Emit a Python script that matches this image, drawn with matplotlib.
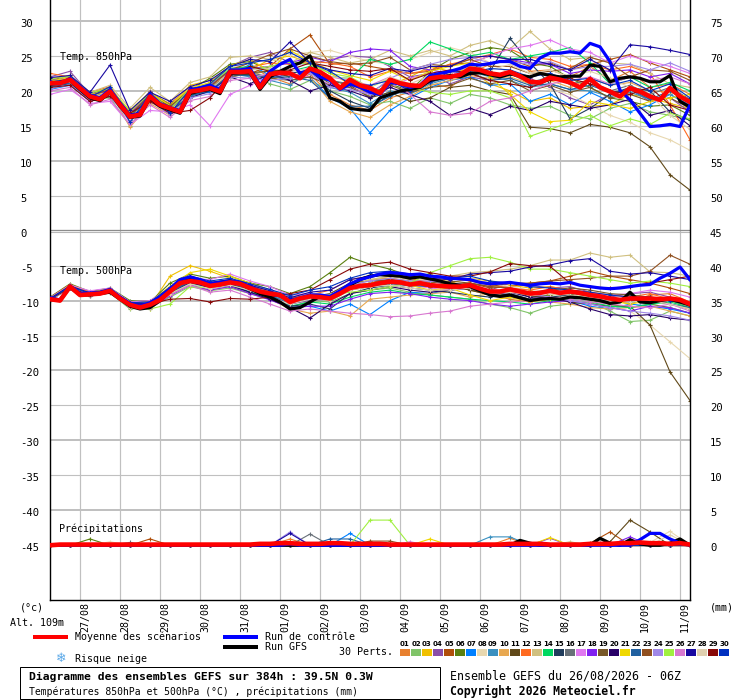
import numpy as np
import matplotlib
matplotlib.use("Agg")
import matplotlib.pyplot as plt
import matplotlib.transforms as mtransforms
from matplotlib.patches import Rectangle
from matplotlib.lines import Line2D

# ---------------- DATA ----------------
HOURS_6 = np.arange(0, 385, 6)      # 65 steps, 26/08 06Z .. 11/09 06Z
HOURS_12 = np.arange(0, 385, 12)    # 33 steps for the perturbations

DATE_LABELS = ["27/08", "28/08", "29/08", "30/08", "31/08", "01/09", "02/09", "03/09",
               "04/09", "05/09", "06/09", "07/09", "08/09", "09/09", "10/09", "11/09"]
DATE_HOURS = [18, 42, 66, 90, 114, 138, 162, 186, 210, 234, 258, 282, 306, 330, 354, 378]

MEMBER_COLORS = ["#e8802f", "#80c468", "#f0c000", "#8a4ea8", "#b04e0a", "#5a8010", "#0080ff",
                 "#e8d8b0", "#3a90c0", "#e8a850", "#604818", "#ff6a20", "#d0c080", "#00d860",
                 "#203c5c", "#687078", "#e078f0", "#8020f0", "#785828", "#280068", "#f0d800",
                 "#2060a0", "#905020", "#a088e8", "#a0f040", "#d878d0", "#1808a0", "#e0d0b0",
                 "#880808", "#0030c0"]

MEAN_850 = [21.1, 21.1, 21.6, 20.4, 19.2, 18.8, 19.9, 18.0, 16.3, 16.6, 19.2, 18.0, 17.5,
            17.0, 19.9, 20.1, 20.4, 19.9, 22.7, 22.7, 22.8, 20.5, 22.4, 22.6, 22.5, 21.8,
            23.2, 22.7, 21.8, 20.4, 21.6, 20.8, 20.4, 19.7, 21.6, 21.1, 20.8, 20.7, 21.8,
            22.0, 22.0, 22.3, 23.2, 23.0, 22.5, 22.3, 22.7, 22.1, 21.3, 21.2, 21.9, 21.6,
            21.2, 20.5, 21.7, 20.5, 19.9, 19.2, 20.4, 19.9, 19.2, 18.7, 20.4, 19.2, 18.4]
CTRL_850 = [21.3, 21.0, 21.8, 20.6, 19.4, 19.0, 20.2, 18.3, 16.5, 16.8, 19.5, 18.2, 17.6,
            17.2, 20.2, 20.4, 20.8, 20.2, 23.0, 23.0, 23.2, 20.8, 22.8, 23.8, 24.5, 22.5,
            23.0, 22.0, 21.5, 20.2, 21.0, 20.5, 19.8, 19.5, 21.2, 21.0, 20.5, 20.8, 22.2,
            22.5, 22.8, 23.2, 23.8, 23.7, 23.9, 24.2, 24.2, 23.5, 23.2, 24.7, 25.4, 25.4,
            25.6, 25.4, 26.8, 26.3, 24.2, 20.1, 18.7, 16.8, 14.9, 15.0, 15.2, 14.9, 18.0]
GFS_850 = [21.0, 21.2, 21.5, 20.2, 19.0, 18.6, 19.8, 17.8, 16.2, 16.4, 19.0, 17.8, 17.3,
           16.8, 19.6, 20.0, 20.2, 19.6, 22.5, 22.6, 22.6, 20.2, 22.0, 22.8, 23.5, 24.0,
           25.0, 22.0, 19.0, 18.5, 17.5, 17.3, 17.2, 19.0, 19.5, 20.0, 20.2, 20.5, 21.5,
           21.8, 22.2, 22.0, 22.5, 22.6, 22.3, 22.0, 22.4, 22.2, 22.0, 22.5, 22.2, 22.0,
           22.1, 22.1, 23.7, 23.5, 21.3, 21.8, 22.0, 21.8, 21.3, 21.3, 22.2, 18.5, 17.7]

MEAN_500 = [-9.8, -10.0, -8.0, -9.2, -9.1, -9.0, -8.6, -9.7, -10.6, -11.0, -10.6, -9.9, -8.7,
            -7.5, -7.2, -7.4, -7.9, -7.7, -7.4, -7.6, -8.2, -8.7, -9.0, -9.2, -10.2, -9.7,
            -9.4, -9.5, -9.7, -9.0, -8.2, -7.9, -7.8, -7.5, -7.3, -7.4, -7.7, -7.5, -7.8,
            -7.9, -8.0, -8.0, -7.8, -8.3, -8.7, -8.7, -8.4, -8.7, -9.0, -8.9, -8.6, -8.9,
            -8.7, -8.9, -9.2, -9.4, -9.7, -9.9, -9.7, -9.7, -9.7, -9.8, -9.7, -9.9, -10.5]
CTRL_500 = [-9.6, -9.9, -7.9, -9.0, -8.9, -8.8, -8.4, -9.5, -10.4, -10.8, -10.3, -9.5, -8.3,
            -7.0, -6.6, -7.0, -7.6, -7.4, -7.2, -7.4, -8.0, -8.6, -9.0, -9.3, -10.0, -9.6,
            -9.2, -9.2, -9.4, -8.6, -7.6, -7.0, -6.6, -6.2, -6.0, -6.1, -6.3, -6.2, -6.5,
            -6.6, -6.8, -6.9, -7.0, -7.4, -7.6, -7.5, -7.4, -7.6, -7.8, -7.6, -7.5, -7.6,
            -7.4, -7.8, -8.0, -8.2, -8.3, -8.2, -8.0, -7.8, -7.7, -6.8, -6.1, -5.2, -7.0]
GFS_500 = [-9.8, -10.0, -8.1, -9.2, -9.2, -9.0, -8.8, -9.8, -10.8, -11.2, -11.0, -10.0, -8.6,
           -7.2, -6.8, -7.2, -7.8, -7.5, -7.2, -7.6, -8.3, -9.0, -9.5, -10.2, -11.2, -11.0,
           -10.2, -9.4, -9.6, -8.8, -7.8, -7.0, -6.5, -6.3, -6.4, -6.5, -6.8, -6.6, -6.9,
           -7.2, -7.6, -7.8, -8.0, -8.6, -9.2, -9.4, -9.2, -9.6, -10.0, -9.8, -9.7, -9.8,
           -9.5, -9.6, -9.8, -10.0, -10.4, -10.2, -8.8, -10.2, -10.3, -10.0, -9.8, -10.2, -10.6]

PRECIP_MEAN = [0.0, 0.1, 0.1, 0.1, 0.1, 0.1, 0.1, 0.1, 0.1, 0.1, 0.1, 0.1, 0.1,
               0.1, 0.1, 0.1, 0.1, 0.1, 0.1, 0.1, 0.1, 0.2, 0.2, 0.3, 0.3, 0.2,
               0.2, 0.2, 0.3, 0.3, 0.2, 0.2, 0.2, 0.2, 0.1, 0.1, 0.1, 0.1, 0.1,
               0.1, 0.1, 0.1, 0.1, 0.1, 0.1, 0.1, 0.2, 0.2, 0.2, 0.2, 0.1, 0.1,
               0.1, 0.1, 0.2, 0.2, 0.2, 0.3, 0.3, 0.4, 0.3, 0.3, 0.2, 0.3, 0.1]
PRECIP_CTRL = [0, 0, 0, 0, 0, 0, 0, 0, 0, 0, 0, 0, 0,
               0, 0, 0, 0, 0, 0, 0, 0, 0, 0, 0, 0.2, 0,
               0, 0, 0, 0, 0, 0, 0, 0, 0, 0, 0, 0, 0,
               0, 0, 0, 0, 0, 0, 0, 0, 0, 0, 0, 0, 0,
               0, 0, 0, 0, 0, 0, 0, 0.8, 1.7, 1.7, 0.9, 0.3, 0]
PRECIP_GFS = [0, 0, 0, 0, 0, 0, 0, 0, 0, 0, 0, 0, 0,
              0, 0, 0, 0, 0, 0, 0, 0, 0, 0, 0, 0, 0,
              0, 0, 0, 0, 0, 0, 0, 0, 0, 0, 0, 0, 0,
              0, 0, 0, 0, 0, 0, 0, 0, 0.7, 0.3, 0, 0, 0,
              0, 0, 0, 1.0, 0.3, 0, 0.8, 0.2, 0, 0, 0.3, 0.9, 0]

# 30 perturbations, 850 hPa (12 h steps)
T850_MEMBERS = [
    [21.8, 22.0, 19.5, 20.3, 17.0, 19.6, 18.2, 20.5, 21.0, 23.0, 23.5, 22.0, 21.0, 22.4, 19.5, 18.0, 17.2, 19.0, 19.8, 21.0, 20.5, 22.5, 23.8, 24.5, 22.8, 23.0, 22.0, 23.5, 21.5, 22.8, 20.5, 21.0, 19.5],
    [20.6, 21.0, 18.8, 19.0, 15.0, 18.5, 16.8, 19.0, 20.0, 22.0, 22.5, 21.0, 20.2, 21.5, 20.0, 19.2, 18.0, 18.5, 17.5, 19.0, 18.2, 19.5, 19.0, 18.0, 17.5, 17.8, 16.5, 16.0, 17.5, 18.2, 17.0, 16.5, 15.8],
    [21.0, 21.4, 19.0, 20.2, 16.8, 19.5, 17.8, 20.8, 21.5, 22.4, 23.0, 24.5, 25.0, 24.0, 22.5, 21.0, 19.5, 20.8, 22.0, 23.5, 22.8, 23.0, 21.0, 20.0, 18.5, 19.0, 17.5, 17.8, 18.0, 19.5, 19.0, 18.2, 17.5],
    [22.0, 22.8, 19.5, 20.0, 16.5, 20.0, 17.0, 19.8, 21.2, 23.5, 24.8, 25.5, 24.0, 23.8, 24.5, 25.0, 24.8, 23.5, 22.0, 22.5, 21.0, 22.0, 21.5, 22.5, 21.8, 20.5, 19.0, 18.0, 19.5, 20.2, 18.5, 19.0, 17.0],
    [21.5, 22.2, 19.0, 19.8, 16.0, 19.0, 17.2, 19.5, 20.8, 22.0, 22.5, 23.5, 26.0, 28.0, 23.8, 24.0, 23.5, 23.0, 22.5, 22.8, 23.8, 24.0, 25.0, 24.5, 23.5, 24.0, 23.0, 23.8, 24.5, 25.2, 24.0, 23.0, 22.0],
    [20.8, 21.2, 19.5, 20.5, 16.2, 19.8, 18.0, 20.2, 21.8, 23.8, 24.2, 23.0, 22.0, 23.0, 21.0, 20.5, 19.5, 21.0, 20.0, 22.8, 24.5, 25.5, 26.2, 25.8, 24.0, 23.5, 21.8, 20.5, 19.0, 18.5, 17.8, 18.0, 16.5],
    [20.2, 20.8, 18.5, 19.8, 15.8, 18.8, 17.0, 19.4, 19.8, 22.2, 23.8, 22.2, 21.5, 22.0, 19.0, 17.5, 14.0, 17.2, 19.0, 20.5, 21.5, 22.0, 20.8, 21.0, 18.5, 19.5, 18.0, 19.8, 18.5, 17.0, 18.0, 19.5, 18.0],
    [21.3, 21.8, 19.2, 20.0, 15.5, 18.8, 17.8, 20.5, 21.0, 23.2, 24.0, 24.5, 25.2, 25.5, 25.8, 25.0, 24.2, 23.8, 24.5, 25.5, 26.2, 25.5, 24.0, 22.5, 21.0, 20.2, 19.5, 18.0, 16.5, 15.5, 14.0, 13.0, 11.5],
    [20.5, 21.2, 18.8, 19.5, 16.0, 19.2, 17.2, 19.2, 20.2, 22.5, 22.0, 21.5, 20.8, 22.8, 20.5, 19.8, 18.2, 20.0, 19.5, 21.0, 21.8, 22.8, 22.0, 21.5, 20.5, 21.0, 20.2, 20.0, 19.2, 19.8, 18.8, 19.5, 17.8],
    [21.6, 21.5, 19.3, 20.0, 14.8, 18.2, 16.5, 19.6, 20.5, 22.8, 22.2, 23.0, 22.5, 22.0, 18.5, 17.0, 16.2, 18.0, 19.2, 20.8, 21.5, 22.2, 21.8, 22.0, 21.0, 21.5, 20.5, 21.8, 20.8, 21.2, 20.0, 19.8, 18.8],
    [21.0, 21.4, 19.0, 19.6, 16.6, 19.0, 17.8, 20.0, 20.2, 22.0, 22.6, 22.8, 22.0, 22.8, 21.5, 20.8, 19.0, 19.8, 18.5, 19.0, 20.5, 20.8, 20.0, 19.5, 14.8, 14.6, 14.0, 15.2, 14.8, 14.0, 12.0, 8.0, 5.8],
    [22.5, 22.0, 19.8, 20.6, 16.8, 19.8, 17.5, 20.0, 20.6, 23.0, 23.4, 24.0, 23.8, 24.2, 24.0, 23.5, 22.0, 22.8, 22.5, 23.0, 23.8, 24.5, 25.2, 26.0, 24.8, 24.5, 23.5, 23.8, 23.0, 23.5, 22.5, 18.0, 13.0],
    [21.2, 22.2, 19.8, 20.8, 17.5, 20.5, 18.5, 21.2, 22.0, 24.8, 25.0, 24.5, 24.0, 25.5, 24.8, 24.0, 24.5, 25.8, 25.0, 25.8, 25.0, 26.5, 27.2, 26.0, 28.5, 26.0, 24.5, 24.8, 24.0, 23.8, 22.5, 21.0, 20.5],
    [20.9, 21.3, 19.1, 19.7, 16.4, 19.5, 17.6, 19.8, 20.6, 23.2, 23.5, 23.0, 22.8, 23.5, 22.0, 21.8, 24.5, 23.8, 24.5, 27.0, 26.0, 25.0, 25.5, 24.5, 25.0, 25.5, 26.2, 24.0, 21.0, 22.0, 20.5, 21.2, 20.0],
    [20.7, 21.0, 18.9, 19.5, 16.0, 18.8, 17.0, 19.5, 20.3, 22.5, 22.2, 21.8, 22.5, 23.0, 20.0, 18.5, 17.5, 19.5, 20.0, 21.5, 22.5, 23.8, 22.8, 27.5, 24.0, 21.0, 16.0, 17.5, 19.5, 20.5, 20.0, 17.0, 15.8],
    [21.4, 21.9, 19.4, 20.1, 16.5, 19.4, 17.7, 20.3, 20.8, 22.9, 22.6, 22.0, 21.8, 22.6, 21.5, 21.0, 19.8, 21.4, 20.2, 21.5, 21.8, 22.8, 22.2, 22.4, 21.2, 22.0, 21.0, 21.5, 20.0, 20.8, 19.5, 20.5, 18.8],
    [19.5, 20.2, 18.2, 18.5, 15.2, 17.2, 17.0, 18.0, 15.0, 19.5, 20.8, 22.0, 22.5, 22.0, 21.0, 20.5, 19.5, 20.5, 21.8, 22.5, 22.0, 24.0, 25.0, 26.0, 26.5, 27.3, 26.0, 25.5, 24.0, 25.0, 24.2, 23.5, 22.5],
    [21.5, 21.8, 19.6, 20.0, 16.8, 19.3, 17.5, 20.0, 20.7, 23.0, 23.2, 23.5, 24.0, 24.8, 24.2, 25.5, 26.0, 25.8, 23.5, 23.0, 22.5, 23.5, 24.0, 24.5, 24.0, 23.8, 22.5, 23.0, 22.8, 23.0, 22.0, 22.5, 21.0],
    [21.0, 21.5, 19.2, 19.6, 16.2, 19.0, 17.3, 19.7, 20.1, 22.4, 22.3, 21.8, 21.5, 22.0, 20.8, 20.5, 19.2, 20.8, 19.8, 20.5, 20.8, 21.8, 21.0, 21.5, 20.0, 20.8, 19.8, 20.5, 19.0, 19.5, 18.5, 19.0, 17.5],
    [20.8, 21.2, 18.8, 19.2, 16.0, 18.6, 17.2, 19.0, 20.0, 22.0, 21.0, 22.5, 21.5, 20.0, 20.8, 20.0, 19.0, 20.5, 19.5, 18.5, 16.5, 17.5, 16.6, 17.8, 17.2, 18.5, 18.0, 17.5, 18.0, 18.8, 16.5, 17.2, 15.0],
    [21.4, 21.9, 19.4, 20.3, 17.2, 19.8, 17.9, 20.4, 21.2, 23.6, 24.5, 22.8, 25.8, 24.2, 23.0, 22.2, 21.5, 22.8, 21.5, 22.8, 23.5, 24.0, 22.0, 19.5, 17.0, 15.6, 15.8, 18.5, 18.0, 17.5, 18.5, 19.0, 19.5],
    [20.6, 21.1, 18.7, 19.4, 15.8, 18.8, 17.0, 19.3, 20.0, 22.3, 22.2, 22.0, 22.0, 21.5, 19.0, 17.8, 17.8, 19.2, 20.5, 21.2, 22.0, 22.6, 21.5, 21.8, 20.8, 21.0, 20.2, 20.8, 19.8, 20.2, 18.8, 20.0, 18.2],
    [21.2, 21.7, 19.3, 20.2, 16.6, 19.3, 17.8, 20.0, 20.6, 23.0, 24.0, 25.2, 26.0, 25.0, 24.2, 23.8, 24.0, 24.8, 23.0, 23.8, 23.5, 24.5, 23.5, 23.5, 22.5, 22.8, 23.2, 24.8, 24.0, 22.0, 23.0, 22.8, 21.5],
    [20.3, 20.9, 18.6, 19.3, 15.6, 18.5, 16.6, 19.0, 19.6, 22.0, 21.8, 21.5, 21.8, 22.5, 20.5, 20.2, 19.5, 21.8, 23.0, 23.8, 24.5, 24.8, 24.0, 24.2, 23.8, 24.2, 23.0, 23.5, 23.5, 23.8, 23.0, 24.0, 22.8],
    [21.7, 22.1, 19.7, 20.4, 17.0, 19.7, 17.4, 20.2, 21.0, 23.2, 23.0, 23.5, 24.2, 23.8, 22.5, 22.0, 20.5, 21.8, 20.5, 19.8, 19.5, 20.0, 20.0, 19.0, 13.5, 14.5, 15.5, 16.5, 15.0, 16.0, 15.2, 16.8, 16.0],
    [20.0, 20.5, 18.0, 18.8, 15.2, 18.0, 16.2, 18.6, 19.2, 21.5, 21.8, 22.5, 22.8, 23.2, 22.0, 21.5, 20.8, 22.0, 19.5, 17.0, 16.5, 16.8, 18.5, 19.0, 20.0, 21.0, 21.5, 22.0, 21.0, 22.0, 21.5, 22.0, 21.0],
    [21.9, 22.2, 19.8, 23.7, 17.2, 19.8, 18.5, 20.6, 21.5, 23.5, 24.5, 24.2, 27.0, 24.0, 23.0, 22.5, 22.2, 23.2, 22.8, 23.5, 23.5, 24.8, 25.0, 24.5, 24.5, 23.8, 23.0, 24.5, 23.0, 26.6, 26.3, 25.8, 25.2],
    [21.0, 21.3, 19.0, 19.8, 16.0, 19.0, 17.2, 19.6, 20.2, 22.6, 23.0, 23.2, 22.8, 23.2, 22.0, 21.8, 20.5, 22.0, 21.0, 22.2, 22.5, 23.5, 23.0, 23.8, 22.5, 23.0, 22.0, 22.8, 21.8, 20.5, 19.5, 16.5, 14.5],
    [20.5, 20.8, 18.5, 19.2, 16.8, 18.5, 16.8, 17.2, 19.0, 22.2, 23.5, 22.8, 23.0, 24.0, 23.5, 23.0, 22.8, 23.2, 21.5, 22.5, 23.0, 22.5, 21.5, 21.0, 20.5, 21.5, 21.8, 21.0, 20.0, 19.5, 20.5, 18.0, 17.2],
    [21.3, 21.6, 19.1, 20.6, 15.5, 19.6, 16.8, 20.2, 21.0, 23.5, 24.0, 24.5, 25.5, 24.0, 22.8, 21.0, 20.8, 21.5, 20.0, 21.2, 22.8, 22.5, 23.2, 23.0, 22.0, 22.5, 21.5, 21.8, 20.8, 21.5, 20.0, 21.0, 19.0],
]

# 30 perturbations, 500 hPa (12 h steps)
T500_MEMBERS = [
    [-9.6, -7.8, -8.8, -8.4, -10.4, -10.2, -8.0, -6.5, -7.4, -7.0, -8.0, -8.8, -10.0, -9.0, -9.5, -7.8, -7.0, -6.8, -7.2, -7.5, -7.2, -8.5, -9.2, -9.8, -10.2, -9.0, -8.8, -9.5, -10.0, -10.2, -9.2, -9.0, -10.2],
    [-10.0, -8.2, -9.3, -8.9, -11.2, -11.0, -9.5, -8.0, -8.6, -8.2, -9.0, -9.8, -11.0, -10.0, -10.2, -9.0, -8.5, -8.2, -8.8, -9.2, -9.5, -9.8, -10.5, -11.0, -11.8, -10.8, -10.5, -10.2, -11.5, -13.0, -12.8, -11.5, -12.2],
    [-9.7, -7.9, -8.9, -8.3, -10.5, -10.8, -6.5, -5.0, -5.8, -6.8, -7.8, -8.5, -9.5, -9.2, -9.5, -7.5, -7.2, -6.5, -6.8, -6.2, -7.5, -6.8, -7.2, -7.8, -8.2, -8.0, -8.5, -9.0, -9.8, -10.5, -9.5, -10.0, -11.0],
    [-9.9, -8.1, -9.2, -8.8, -10.8, -10.5, -8.5, -7.5, -8.0, -7.6, -8.5, -9.2, -10.5, -10.0, -9.8, -8.0, -7.5, -7.0, -7.5, -7.2, -7.8, -8.2, -8.5, -7.5, -7.8, -8.2, -8.0, -8.8, -9.5, -9.0, -8.8, -9.5, -10.5],
    [-9.8, -8.0, -9.0, -8.6, -10.4, -10.6, -8.8, -7.0, -7.8, -7.2, -8.2, -9.0, -10.0, -9.2, -9.8, -8.0, -7.5, -7.0, -7.2, -7.0, -7.8, -7.5, -8.2, -8.0, -7.5, -7.2, -6.5, -5.8, -6.5, -7.0, -7.5, -8.2, -9.0],
    [-9.5, -7.6, -8.7, -8.2, -10.0, -10.2, -7.5, -6.2, -6.8, -6.5, -7.5, -8.0, -9.0, -8.0, -6.0, -3.8, -4.8, -5.5, -6.5, -7.0, -7.8, -8.5, -9.0, -8.5, -9.5, -9.2, -9.0, -10.0, -10.5, -11.0, -10.5, -11.0, -11.8],
    [-9.9, -8.1, -9.2, -8.7, -10.7, -10.9, -9.0, -7.6, -8.3, -7.8, -8.8, -9.8, -11.0, -10.8, -11.5, -10.5, -12.0, -10.0, -8.8, -9.0, -8.5, -8.2, -9.0, -9.5, -9.8, -9.5, -10.0, -10.8, -11.2, -10.5, -10.8, -11.2, -11.8],
    [-9.7, -8.0, -9.1, -8.5, -10.5, -10.4, -8.5, -7.0, -7.6, -7.2, -8.0, -8.8, -9.8, -9.0, -9.2, -7.8, -7.0, -6.5, -6.8, -7.2, -7.0, -6.8, -7.5, -8.0, -8.5, -9.0, -9.5, -10.0, -10.8, -11.5, -13.5, -15.9, -18.3],
    [-9.8, -8.1, -9.1, -8.7, -10.6, -10.5, -8.8, -7.3, -8.0, -7.5, -8.3, -9.2, -10.3, -9.6, -9.9, -8.4, -8.0, -7.6, -7.9, -8.0, -8.2, -8.0, -8.9, -8.6, -9.2, -8.8, -8.9, -9.4, -9.9, -9.9, -9.9, -10.0, -10.8],
    [-9.9, -8.2, -9.3, -8.8, -11.0, -11.2, -9.2, -7.8, -8.5, -8.0, -9.0, -9.8, -11.2, -11.8, -11.5, -12.2, -9.8, -9.5, -9.2, -9.0, -8.8, -9.5, -9.0, -9.2, -9.8, -10.2, -10.5, -11.0, -11.2, -11.0, -10.8, -11.5, -12.2],
    [-9.8, -8.0, -9.0, -8.5, -10.2, -10.0, -8.5, -7.0, -7.5, -7.0, -7.5, -8.5, -9.5, -9.5, -9.0, -7.5, -7.2, -7.0, -7.5, -7.8, -8.0, -8.5, -9.2, -9.5, -10.0, -9.8, -10.2, -10.5, -10.8, -10.8, -13.5, -20.2, -24.3],
    [-9.6, -7.7, -8.8, -8.4, -10.3, -10.4, -8.2, -6.8, -7.6, -7.0, -7.8, -8.8, -9.8, -9.2, -8.5, -7.0, -6.5, -6.2, -6.8, -7.5, -6.8, -7.2, -7.8, -8.2, -8.5, -8.0, -8.5, -8.8, -9.2, -9.5, -9.0, -9.8, -10.5],
    [-9.7, -7.9, -9.0, -8.6, -10.5, -10.6, -8.6, -7.2, -7.8, -7.3, -8.0, -8.8, -10.0, -9.2, -9.5, -8.0, -7.0, -6.5, -7.0, -7.5, -6.5, -6.0, -5.8, -5.5, -5.0, -4.2, -4.2, -3.2, -3.8, -3.5, -5.9, -6.0, -6.5],
    [-9.8, -8.1, -9.2, -8.7, -10.8, -11.0, -9.0, -7.5, -8.2, -7.8, -8.8, -9.5, -10.8, -10.2, -10.5, -9.5, -8.8, -8.5, -9.0, -9.2, -9.5, -9.8, -10.0, -10.2, -10.5, -10.0, -9.8, -10.2, -10.8, -11.0, -10.5, -10.2, -11.0],
    [-9.9, -8.1, -9.2, -8.6, -10.7, -10.8, -8.9, -7.4, -8.1, -7.6, -8.5, -9.5, -10.8, -10.5, -11.2, -9.0, -8.2, -7.8, -8.2, -8.5, -8.8, -9.2, -9.5, -9.0, -9.8, -9.5, -9.2, -9.8, -10.2, -10.0, -9.8, -10.5, -11.2],
    [-9.8, -8.0, -9.1, -8.6, -10.6, -10.6, -8.7, -7.2, -7.9, -7.4, -8.2, -9.0, -10.2, -9.4, -9.7, -8.2, -7.8, -7.3, -7.7, -7.8, -8.0, -7.8, -8.7, -8.4, -9.0, -8.6, -8.7, -9.2, -9.7, -9.7, -9.7, -9.7, -10.5],
    [-9.6, -7.8, -8.6, -8.2, -10.2, -10.0, -8.2, -6.8, -7.0, -6.2, -7.2, -8.0, -9.2, -9.0, -9.5, -8.0, -7.5, -7.2, -7.8, -8.2, -8.5, -8.2, -9.0, -8.8, -9.0, -8.5, -8.8, -9.0, -9.2, -9.0, -8.5, -8.8, -9.5],
    [-9.9, -8.2, -9.3, -8.8, -10.9, -11.1, -9.3, -7.8, -8.5, -8.0, -9.0, -9.9, -11.0, -10.8, -10.8, -9.8, -9.0, -8.8, -9.0, -9.5, -9.8, -10.0, -10.5, -10.8, -10.5, -10.2, -10.0, -10.5, -11.0, -11.5, -10.8, -11.0, -11.8],
    [-9.8, -8.0, -9.0, -8.6, -10.5, -10.5, -8.6, -7.2, -7.8, -7.4, -8.2, -9.0, -10.0, -9.5, -9.5, -8.2, -7.5, -7.0, -7.5, -7.5, -7.2, -7.5, -8.0, -8.2, -8.8, -8.5, -8.2, -8.5, -9.0, -9.2, -9.5, -9.8, -10.8],
    [-9.8, -8.1, -9.2, -8.7, -10.8, -10.8, -8.9, -7.4, -8.2, -7.8, -8.8, -9.8, -11.0, -12.5, -10.5, -9.0, -8.5, -8.0, -8.5, -8.8, -8.5, -8.2, -9.2, -8.8, -9.5, -9.5, -10.2, -11.2, -12.0, -12.2, -12.0, -12.5, -12.8],
    [-9.7, -7.9, -8.9, -8.3, -10.4, -10.2, -8.0, -6.0, -5.5, -6.5, -7.5, -8.5, -9.5, -9.0, -9.2, -8.0, -7.5, -7.2, -7.8, -8.5, -8.2, -9.2, -10.0, -9.5, -10.2, -9.8, -9.5, -9.2, -10.0, -10.5, -10.0, -10.5, -11.2],
    [-9.9, -8.1, -9.2, -8.7, -10.7, -10.7, -8.8, -7.3, -8.0, -7.5, -8.3, -9.3, -10.5, -9.8, -10.0, -8.5, -7.8, -7.5, -7.8, -8.0, -8.2, -8.0, -8.8, -8.5, -9.0, -8.5, -8.8, -9.5, -10.0, -10.2, -10.0, -10.5, -11.0],
    [-9.8, -8.0, -9.1, -8.6, -10.6, -10.5, -8.6, -7.0, -7.6, -7.2, -8.0, -9.0, -10.0, -9.2, -9.5, -8.5, -8.0, -7.5, -7.5, -8.0, -7.8, -7.5, -8.0, -7.5, -7.5, -7.2, -7.0, -6.8, -6.5, -6.5, -5.8, -3.5, -4.8],
    [-9.7, -7.9, -9.0, -8.5, -10.4, -10.3, -8.3, -6.8, -7.5, -7.0, -7.8, -8.5, -9.5, -9.0, -9.2, -7.8, -7.2, -6.8, -7.2, -7.2, -7.5, -7.8, -8.5, -8.8, -9.0, -9.5, -10.0, -10.5, -11.0, -11.5, -11.8, -12.2, -12.8],
    [-9.8, -8.0, -9.0, -8.6, -11.0, -11.2, -10.5, -8.0, -8.2, -7.5, -8.0, -8.8, -10.0, -9.5, -9.2, -8.8, -8.5, -8.0, -7.5, -6.0, -5.0, -4.0, -3.8, -4.5, -5.5, -5.5, -6.0, -6.5, -7.0, -7.5, -7.2, -7.5, -8.0],
    [-9.8, -8.1, -9.2, -8.8, -10.9, -11.0, -9.2, -7.8, -8.8, -8.5, -9.5, -10.5, -11.5, -11.2, -11.5, -11.8, -12.0, -12.3, -12.2, -11.8, -11.5, -10.8, -10.5, -10.2, -10.0, -9.5, -9.8, -10.2, -10.5, -10.8, -11.0, -10.5, -11.5],
    [-9.7, -7.9, -8.9, -8.5, -10.4, -10.4, -8.4, -6.8, -7.4, -7.0, -7.8, -8.6, -9.6, -8.8, -8.5, -7.0, -6.5, -6.0, -6.5, -6.8, -7.0, -6.2, -6.0, -5.8, -5.2, -4.9, -4.3, -4.0, -5.8, -6.2, -6.0, -6.5, -7.0],
    [-9.9, -8.2, -9.3, -8.9, -11.0, -10.9, -9.0, -7.6, -8.3, -7.8, -8.5, -9.5, -10.5, -9.8, -10.0, -8.5, -8.0, -7.8, -8.2, -8.5, -8.5, -8.2, -9.0, -8.8, -9.2, -9.0, -9.2, -9.5, -10.0, -10.2, -10.0, -10.5, -11.2],
    [-9.8, -8.2, -9.2, -8.8, -10.8, -10.5, -9.8, -9.7, -10.2, -9.7, -9.8, -9.5, -9.0, -8.5, -7.0, -5.5, -4.8, -4.5, -5.5, -6.0, -6.5, -6.5, -5.9, -4.7, -5.0, -5.1, -7.5, -8.0, -8.2, -8.0, -7.5, -7.0, -6.5],
    [-9.8, -8.0, -9.0, -8.4, -10.3, -10.2, -8.1, -6.5, -7.2, -6.8, -7.6, -8.4, -9.3, -8.5, -8.0, -6.8, -6.0, -5.8, -6.2, -6.5, -6.8, -6.5, -7.2, -7.5, -8.0, -8.2, -8.5, -8.8, -9.2, -9.5, -9.5, -10.0, -10.5],
]

# 30 perturbations, precipitation in mm (12 h steps)
PRECIP_MEMBERS = [
    [0, 0, 0, 0, 0, 0, 0, 0, 0, 0, 0, 0, 0.9, 0, 0, 0, 0, 0, 0, 0, 0, 0, 0, 1.0, 0, 0, 0, 0, 0, 0, 0, 0, 0],
    [0, 0, 0, 0, 0, 0, 0, 0, 0, 0, 0, 0, 0, 0, 0, 0, 0, 0, 0, 0, 0, 0, 0, 0, 0, 0, 0, 0, 0, 0, 0, 0, 0],
    [0, 0, 0, 0, 0, 0, 0, 0, 0, 0, 0, 0, 0, 0, 0, 0, 0, 0, 0, 0, 0, 0, 0, 0, 0, 0, 0, 0, 0, 0, 0, 0, 0],
    [0, 0, 0, 0, 0, 0, 0, 0, 0, 0, 0, 0, 0, 0, 0, 0, 0, 0, 0, 0, 0, 0, 0, 0, 0, 0, 0, 0, 0, 0, 0, 0, 0],
    [0, 0, 0, 0, 0, 0.9, 0, 0, 0, 0, 0, 0, 0, 0, 0, 0, 0, 0, 0, 0, 0, 0, 0, 0, 0, 0, 0, 0.3, 1.9, 0, 0, 0, 0],
    [0, 0, 0.9, 0, 0, 0, 0, 0, 0, 0, 0, 0, 0, 0, 0, 0, 0, 0, 0, 0, 0, 0, 0, 0, 0, 0, 0, 0, 0, 0, 0, 0, 0],
    [0, 0, 0, 0, 0, 0, 0, 0, 0, 0, 0, 0, 0, 0, 0, 1.7, 0, 0, 0, 0, 0, 0, 0, 0, 0, 0, 0, 0, 0, 0, 0, 0, 0],
    [0, 0, 0, 0.5, 0, 0, 0, 0, 0, 0, 0, 0, 0, 0, 0, 0, 0, 0, 0, 0, 0, 0, 0, 0, 0, 0, 0, 0, 0, 0, 0.4, 2.0, 0],
    [0, 0, 0, 0, 0, 0, 0, 0, 0, 0, 0, 0, 0, 0, 0, 0, 0, 0, 0, 0, 0, 0, 1.2, 1.2, 0, 0, 0, 0, 0, 0, 0, 0, 0],
    [0, 0, 0, 0, 0, 0, 0, 0, 0, 0, 0, 0, 0, 0, 0, 0, 0, 0, 0, 0, 0, 0, 0, 0, 0, 0, 0, 0, 0, 0, 0, 0, 0],
    [0, 0, 0, 0, 0, 0, 0, 0, 0, 0, 0, 0, 0, 0, 0, 0, 0, 0, 0, 0, 0, 0, 0, 0, 0, 0, 0, 0, 0.5, 3.6, 1.9, 0, 0],
    [0, 0, 0, 0, 0, 0, 0, 0, 0, 0, 0, 0, 0, 0, 0, 0, 0, 0, 0, 0, 0, 0, 0, 0, 0, 0, 0, 0, 0, 0, 0, 0, 0],
    [0, 0, 0, 0, 0, 0, 0, 0, 0, 0, 0, 0, 0, 0, 0, 0, 0, 0, 0, 0, 0, 0, 0, 0, 0, 0, 0.5, 0, 0, 0, 0, 0, 0],
    [0, 0, 0, 0, 0, 0, 0, 0, 0, 0, 0, 0, 0, 0, 0, 0, 0, 0, 0, 0, 0, 0, 0, 0, 0, 0, 0, 0, 0, 0, 0, 0, 0],
    [0, 0, 0, 0, 0, 0, 0, 0, 0, 0, 0, 0, 0, 0, 0, 0, 0, 0, 0, 0, 0, 0, 0, 0, 0, 0, 0, 0, 0, 0, 0, 0, 0],
    [0, 0, 0, 0, 0.4, 0, 0, 0, 0, 0, 0, 0, 0, 1.6, 0, 0, 0, 0, 0, 0, 0, 0, 0, 0, 0, 0, 0, 0, 0, 0, 0, 0, 0],
    [0, 0, 0, 0, 0, 0, 0, 0, 0, 0, 0, 0, 0, 0, 0, 0, 0, 0, 0, 0, 0, 0, 0, 0, 0, 0, 0, 0, 0, 0, 0, 0, 0],
    [0, 0, 0, 0, 0, 0, 0, 0, 0, 0, 0, 0, 0, 0, 0, 0, 0, 0, 0, 0, 0, 0, 0, 0, 0, 1.0, 0, 0, 0, 1.2, 0, 0, 0],
    [0, 0, 0, 0, 0, 0, 0, 0, 0, 0, 0, 0, 0, 0, 0, 0, 0, 0, 0, 0, 0, 0, 0, 0, 0, 0, 0, 0, 0, 0, 0, 0, 0],
    [0, 0, 0, 0, 0, 0, 0, 0, 0, 0, 0, 0, 0, 0, 0, 0, 0, 0, 0, 0, 0, 0, 0, 0, 0, 0, 0, 0, 0, 0, 0, 0, 0],
    [0, 0, 0, 0, 0, 0, 0, 0, 0, 0, 0, 0, 0, 0, 0, 0, 0, 0, 0, 0.9, 0, 0, 0, 0, 0, 1.1, 0, 0, 0, 0, 0, 0, 0],
    [0, 0, 0, 0, 0, 0, 0, 0, 0, 0, 0, 0, 0, 0, 0.9, 0.9, 0, 0, 0, 0, 0, 0, 0, 0, 0, 0, 0, 0, 0, 0, 0, 0, 0],
    [0, 0, 0, 0, 0, 0, 0, 0, 0, 0, 0, 0, 0, 0, 0, 0, 0.6, 0.6, 0, 0, 0, 0, 0, 0, 0, 0, 0, 0, 0, 0, 0, 0, 0],
    [0, 0, 0, 0, 0, 0, 0, 0, 0, 0, 0, 0, 1.9, 0, 0, 0, 0, 0, 0, 0, 0, 0, 0, 0, 0, 0, 0, 0, 0, 0, 0, 0, 0],
    [0, 0, 0, 0, 0, 0, 0, 0, 0, 0, 0, 0, 0, 0, 0, 0, 3.6, 3.6, 0, 0, 0, 0, 0, 0, 0, 0, 0, 0, 0, 0, 0, 0, 0],
    [0, 0, 0, 0, 0, 0, 0, 0, 0, 0, 0, 0, 0, 0, 0, 0, 0, 0, 0.5, 0, 0, 0, 0, 0, 0, 0, 0, 0, 0, 0, 0, 0, 0],
    [0, 0, 0, 0, 0, 0, 0, 0, 0, 0, 0, 0, 1.7, 0, 0, 0, 0, 0, 0, 0, 0, 0, 0, 0, 0, 0, 0, 0, 0, 0, 0, 0, 0],
    [0, 0, 0, 0, 0, 0, 0, 0, 0, 0, 0, 0, 0, 0, 0, 0, 0, 0, 0, 0, 0, 0, 0, 0, 0, 0, 0, 0, 0, 0, 0, 1.5, 0],
    [0, 0, 0, 0, 0, 0, 0, 0, 0, 0, 0, 0, 0, 0, 0, 0, 0, 0, 0, 0, 0, 0, 0, 0, 0, 0, 0, 0, 0, 0, 0, 0, 0],
    [0, 0, 0, 0, 0, 0, 0, 0, 0, 0, 0, 0, 0, 0, 0, 0, 0, 0, 0, 0, 0, 0, 0, 0, 0, 0, 0, 0, 0, 0, 0, 0, 0],
]

PRECIP_BASE = -45.0    # 0 mm sits on the -45 line of the temperature scale
LEFT_TICKS = list(range(30, -46, -5))
RIGHT_TICKS = list(range(75, -1, -5))

# ---------------- FIGURE ----------------
W, H = 740, 700
MONO = "DejaVu Sans Mono"
fig = plt.figure(figsize=(W / 100, H / 100), dpi=100)
fig.patch.set_facecolor("white")

ax = fig.add_axes([50 / W, 100 / H, 640 / W, 600 / H])
YMIN, YMAX = -52.83, 33.0
ax.set_xlim(0, 384)
ax.set_ylim(YMIN, YMAX)
ax.set_facecolor("white")

PX = 0.72  # points per pixel
for v in LEFT_TICKS:
    if v == 0:
        continue
    ax.axhline(v, color="#c0c0c0", lw=(2 if v % 10 == 0 else 1.1) * PX, zorder=0)
ax.axhline(0.12, color="#8c8c8c", lw=1.3 * PX, zorder=0.5)
ax.axhline(-0.25, color="#b8b8b8", lw=1.1 * PX, zorder=0.5)
for h in DATE_HOURS:
    ax.axvline(h, color="#c0c0c0", lw=1.2 * PX, zorder=0)

for s in ["left", "right", "bottom"]:
    ax.spines[s].set_color("black")
    ax.spines[s].set_linewidth(1.4 * PX)
ax.spines["top"].set_visible(False)

# y ticks (left: temperatures)
ax.set_yticks(LEFT_TICKS)
ax.set_yticklabels([str(v) for v in LEFT_TICKS], family=MONO, fontsize=7.6, ha="left")
ax.tick_params(axis="y", length=0, pad=30 * PX)
down = mtransforms.ScaledTranslation(0, -2 / 100, fig.dpi_scale_trans)
for lab in ax.get_yticklabels():
    lab.set_transform(lab.get_transform() + down)

# x ticks: dates
ax.set_xticks(DATE_HOURS)
ax.set_xticklabels(DATE_LABELS, rotation=90, family=MONO, fontsize=7.2, ha="center", va="top")
ax.tick_params(axis="x", length=0, pad=2 * PX)
right5 = mtransforms.ScaledTranslation(5 / 100, 0, fig.dpi_scale_trans)
for lab in ax.get_xticklabels():
    lab.set_transform(lab.get_transform() + right5)

# right axis (same scale shifted by 45)
ax2 = ax.twinx()
ax2.set_ylim(YMIN + 45, YMAX + 45)
ax2.set_yticks(RIGHT_TICKS)
ax2.set_yticklabels([str(v) for v in RIGHT_TICKS], family=MONO, fontsize=7.6)
ax2.tick_params(axis="y", length=0, pad=20 * PX)
for lab in ax2.get_yticklabels():
    lab.set_transform(lab.get_transform() + down)
for s in ax2.spines.values():
    s.set_visible(False)

# ---------------- SERIES ----------------
for c, vals in zip(MEMBER_COLORS, T850_MEMBERS):
    ax.plot(HOURS_12, vals, color=c, lw=0.8, marker="+", ms=3, mew=0.8, zorder=2)
for c, vals in zip(MEMBER_COLORS, T500_MEMBERS):
    ax.plot(HOURS_12, vals, color=c, lw=0.8, marker="+", ms=3, mew=0.8, zorder=2)
for c, vals in zip(MEMBER_COLORS, PRECIP_MEMBERS):
    ax.plot(HOURS_12, np.array(vals) + PRECIP_BASE, color=c, lw=0.8, marker="+", ms=3, mew=0.8, zorder=2)

ax.plot(HOURS_6, GFS_850, color="black", lw=3.2 * PX, zorder=3)
ax.plot(HOURS_6, CTRL_850, color="#0000ff", lw=3.2 * PX, zorder=4)
ax.plot(HOURS_6, MEAN_850, color="#ff0000", lw=4.6 * PX, zorder=5)
ax.plot(HOURS_6, GFS_500, color="black", lw=3.2 * PX, zorder=3)
ax.plot(HOURS_6, CTRL_500, color="#0000ff", lw=3.2 * PX, zorder=4)
ax.plot(HOURS_6, MEAN_500, color="#ff0000", lw=4.6 * PX, zorder=5)
ax.plot(HOURS_6, np.array(PRECIP_GFS) + PRECIP_BASE, color="black", lw=3.2 * PX, zorder=3)
ax.plot(HOURS_6, np.array(PRECIP_CTRL) + PRECIP_BASE, color="#0000ff", lw=3.2 * PX, zorder=4)
ax.plot(HOURS_6, np.array(PRECIP_MEAN) + PRECIP_BASE, color="#ff0000", lw=4.6 * PX, zorder=5)

# ---------------- TEXTS ----------------
def ptext(px, py, s, size=7.2, weight="normal", ha="left", va="center", family=MONO, **kw):
    fig.text(px / W, 1 - py / H, s, fontsize=size, fontweight=weight, ha=ha, va=va,
             family=family, **kw)

ptext(60, 57, "Temp. 850hPa")
ptext(60, 271, "Temp. 500hPa")
ptext(59, 529, "Précipitations")
ptext(20, 607, "(°c)")
ptext(10, 623, "Alt. 109m")
ptext(710, 607, "(mm)")

def pline(x0, x1, py, color):
    fig.add_artist(Line2D([x0 / W, x1 / W], [1 - py / H] * 2, color=color, lw=4 * PX,
                          transform=fig.transFigure))

pline(35, 66, 637, "#ff0000")
ptext(75, 637, "Moyenne des scénarios")
pline(225, 256, 637, "#0000ff")
ptext(265, 637, "Run de contrôle")
pline(225, 256, 647, "black")
ptext(265, 647, "Run GFS")
ptext(61, 658, "\u2744", size=9, ha="center", family=["DejaVu Sans"], color="#5aa8e8")
ptext(75, 659, "Risque neige")
ptext(393, 652, "30 Perts.", ha="right")

for j, c in enumerate(MEMBER_COLORS):
    x0 = 400 + 11 * j
    fig.add_artist(Rectangle((x0 / W, 1 - 656 / H), 10 / W, 7 / H, transform=fig.transFigure,
                             facecolor=c, edgecolor="none"))
    ptext(x0 + 5, 643.5, "%02d" % (j + 1), size=5.0, weight="bold", ha="center",
          family=["DejaVu Sans"])

fig.add_artist(Rectangle((20 / W, 1 - 699 / H), 420 / W, 32 / H, transform=fig.transFigure,
                         fill=False, edgecolor="black", lw=1.0 * PX))
ptext(29, 677, "Diagramme des ensembles GEFS sur 384h : 39.5N 0.3W", size=8.2, weight="bold")
ptext(29, 692, "Températures 850hPa et 500hPa (°C) , précipitations (mm)", size=7.0)
ptext(450, 676, "Ensemble GEFS du 26/08/2026 - 06Z", size=8.4)
ptext(450, 691, "Copyright 2026 Meteociel.fr", size=8.3, weight="bold")

fig.savefig("out.png", dpi=100, facecolor="white")
